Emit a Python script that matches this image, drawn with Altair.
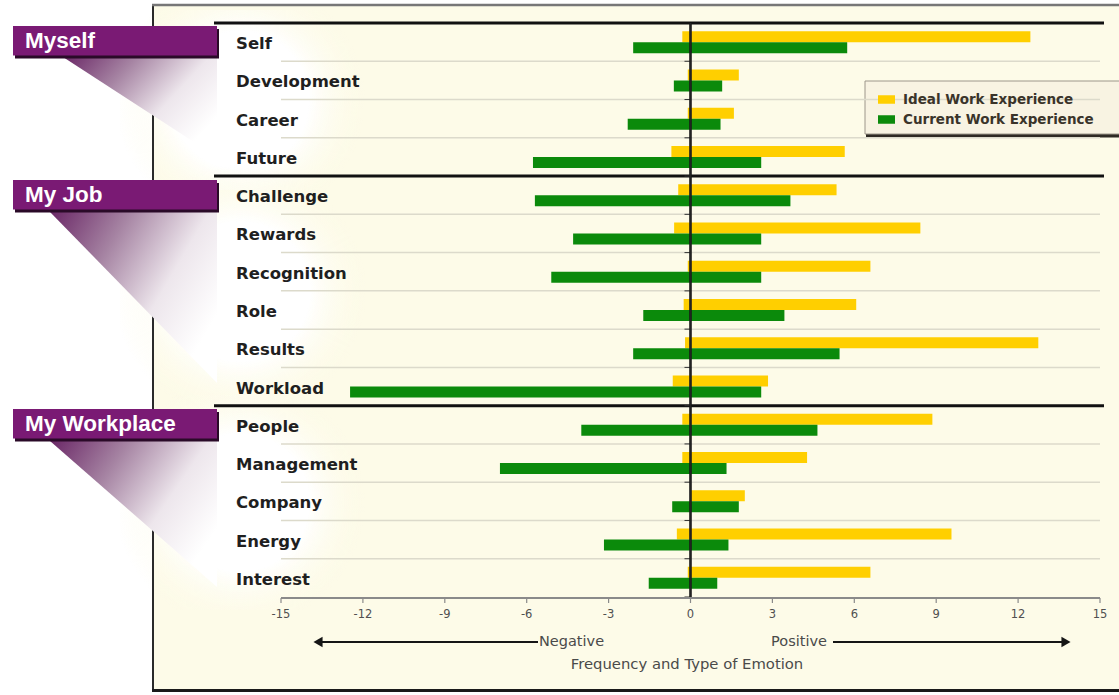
import json

import altair as alt
import pandas as pd

# ---------------------------------------------------------------- data
categories = [
    "Self", "Development", "Career", "Future",
    "Challenge", "Rewards", "Recognition", "Role", "Results", "Workload",
    "People", "Management", "Company", "Energy", "Interest",
]
sections = ["Myself", "My Job", "My Workplace"]
section_first = ["Self", "Challenge", "People"]
section_last = ["Future", "Workload", "Interest"]

ideal_negative = [-0.3, -0.1, -0.1, -0.7, -0.45, -0.6, -0.1, -0.25, -0.2, -0.65,
                  -0.3, -0.3, 0.0, -0.5, -0.1]
ideal_positive = [12.45, 1.77, 1.59, 5.65, 5.35, 8.42, 6.59, 6.07, 12.74, 2.84,
                  8.86, 4.27, 1.99, 9.56, 6.59]
current_negative = [-2.1, -0.61, -2.3, -5.77, -5.7, -4.3, -5.1, -1.73, -2.1, -12.47,
                    -4.0, -6.98, -0.67, -3.17, -1.53]
current_positive = [5.74, 1.16, 1.1, 2.59, 3.66, 2.59, 2.59, 3.44, 5.46, 2.59,
                    4.65, 1.32, 1.77, 1.39, 0.98]

series_names = ["Ideal Work Experience", "Current Work Experience"]
series_colors = ["#FFCF00", "#0B8A0B"]
tick_values = [-15, -12, -9, -6, -3, 0, 3, 6, 9, 12, 15]

# ---------------------------------------------------------------- styling
W, H = 1119, 695
CREAM = "#FDFBE8"
PURPLE = "#7A1A74"
LABEL_FONT = "DejaVu Sans"
BOX_FONT = "Liberation Sans"

# long table of bars: one row per category and series
rows = []
for i, cat in enumerate(categories):
    rows.append({"category": cat, "series": series_names[0],
                 "neg": ideal_negative[i], "pos": ideal_positive[i]})
    rows.append({"category": cat, "series": series_names[1],
                 "neg": current_negative[i], "pos": current_positive[i]})
bars_df = pd.DataFrame(rows)
cats_df = pd.DataFrame({"category": categories})
ticks_df = pd.DataFrame({"tick": tick_values})

# value scale: the whole canvas is the view, -15..15 sits under the bar area
x_scale = alt.Scale(domain=[-690.5 / 27.3, (W - 690.5) / 27.3], nice=False, zero=False)
# one band per category, rows running from y=23 to y=597
y_scale = alt.Scale(domain=categories, range=[23, 597], paddingInner=0, paddingOuter=0)
y_cat = alt.Y("category:N", sort=categories, scale=y_scale, axis=None)


def x_at(value):
    return alt.XDatum(value, axis=None)


not_last = "indexof(" + json.dumps(section_last) + ", datum.category) < 0"

# ---------------------------------------------------------------- data layers
bars = alt.Chart(bars_df).mark_bar().encode(
    x=alt.X("neg:Q", scale=x_scale, axis=None),
    x2="pos:Q",
    y=y_cat,
    yOffset=alt.YOffset("series:N", sort=series_names,
                        scale=alt.Scale(domain=series_names, paddingInner=0, paddingOuter=0.74)),
    color=alt.Color("series:N",
                    scale=alt.Scale(domain=series_names, range=series_colors),
                    legend=alt.Legend(orient="none", legendX=865, legendY=83, title=None,
                                      padding=8, symbolOffset=5,
                                      symbolType="M-1,-0.5H1V0.5H-1Z", symbolSize=289,
                                      symbolStrokeWidth=0, labelOffset=8, rowPadding=5,
                                      labelLimit=400,
                                      labelFont=LABEL_FONT, labelFontWeight="bold",
                                      labelFontSize=13.5, labelColor="#3a342a")),
)

separators = alt.Chart(cats_df).transform_filter(not_last).mark_rule(
    color="#dcdacb", strokeWidth=1.5,
).encode(
    x=x_at(-15), x2=alt.datum(15),
    y=alt.Y("category:N", sort=categories, scale=y_scale, axis=None, bandPosition=1),
)

section_lines = alt.Chart(cats_df).transform_filter(
    alt.FieldOneOfPredicate(field="category", oneOf=section_first)
).mark_rule(color="#111111", strokeWidth=3).encode(
    x=alt.value(214), x2=alt.value(1104),
    y=alt.Y("category:N", sort=categories, scale=y_scale, axis=None, bandPosition=0),
)

zero_ticks = alt.Chart(cats_df).mark_rule(color="#333333", strokeWidth=1).encode(
    x=x_at(-0.22), x2=alt.datum(0),
    y=alt.Y("category:N", sort=categories, scale=y_scale, axis=None, bandPosition=1),
)

zero_line = alt.Chart(cats_df).mark_rule(color="#222222", strokeWidth=1.2).encode(
    x=x_at(0), y=alt.value(23), y2=alt.value(599),
)

# value axis along the bottom of the rows
baseline = alt.Chart(cats_df).mark_rule(color="#8a8a8a", strokeWidth=1.5).encode(
    x=x_at(-15), x2=alt.datum(15), y=alt.value(598),
)
axis_ticks = alt.Chart(ticks_df).mark_rule(color="#8a8a8a", strokeWidth=1.2).encode(
    x=alt.X("tick:Q", axis=None), y=alt.value(598), y2=alt.value(603),
)
axis_labels = alt.Chart(ticks_df).transform_calculate(
    tick_label="'' + datum.tick"
).mark_text(
    align="center", baseline="middle", font=LABEL_FONT, fontSize=11.5, color="#505050",
).encode(x=alt.X("tick:Q", axis=None), y=alt.value(615), text="tick_label:N")

labels = alt.Chart(cats_df).mark_text(
    align="left", baseline="middle", dy=2, font=LABEL_FONT, fontWeight="bold",
    fontSize=16.5, color="#1f1f1f",
).encode(x=alt.value(236), y=y_cat, text="category:N")

data_group = alt.layer(separators, section_lines, zero_ticks, bars, zero_line,
                       baseline, axis_ticks, axis_labels, labels)

# ---------------------------------------------------------------- decoration (pixel space)
px_x = alt.Scale(domain=[0, W], nice=False, zero=False)
px_y = alt.Scale(domain=[0, H], nice=False, zero=False, reverse=True)


def px_rect(df, **mark):
    return alt.Chart(df).mark_rect(**mark).encode(
        x=alt.X("x:Q", scale=px_x, axis=None), x2="x2:Q",
        y=alt.Y("y:Q", scale=px_y, axis=None), y2="y2:Q",
    )


def px_rule(df, **mark):
    return alt.Chart(df).mark_rule(**mark).encode(
        x=alt.X("x:Q", scale=px_x, axis=None), x2="x2:Q",
        y=alt.Y("y:Q", scale=px_y, axis=None), y2="y2:Q",
    )


def px_text(df, **mark):
    return alt.Chart(df).mark_text(**mark).encode(
        x=alt.X("x:Q", scale=px_x, axis=None),
        y=alt.Y("y:Q", scale=px_y, axis=None), text="label:N",
    )


frame_bg = px_rect(pd.DataFrame({"x": [153], "x2": [1130], "y": [5], "y2": [690]}),
                   fill=CREAM)

lens_fill = alt.RadialGradient(
    gradient="radial", x1=0.48, y1=0.5, r1=0, x2=0.48, y2=0.5, r2=0.5,
    stops=[alt.GradientStop(color="#FFFFFF", offset=0),
           alt.GradientStop(color="#FFFFFF", offset=0.55),
           alt.GradientStop(color="rgba(253,251,232,0)", offset=1)],
)
lenses = px_rect(pd.DataFrame({"x": [120, 120, 120], "x2": [370, 370, 370],
                               "y": [10, 165, 395], "y2": [190, 418, 610]}),
                 fill=lens_fill)

frame_left = px_rule(pd.DataFrame({"x": [153], "x2": [153], "y": [5], "y2": [691]}),
                     color="#2a2a2a", strokeWidth=2)
frame_top = px_rule(pd.DataFrame({"x": [152], "x2": [1130], "y": [5], "y2": [5]}),
                    color="#777777", strokeWidth=2.5)
frame_bottom = px_rule(pd.DataFrame({"x": [152], "x2": [1130], "y": [690.5], "y2": [690.5]}),
                       color="#1a1a1a", strokeWidth=3)

beam_fill = alt.LinearGradient(
    gradient="linear", x1=0, y1=0, x2=1, y2=0.6,
    stops=[alt.GradientStop(color="#6A2766", offset=0),
           alt.GradientStop(color="#A684A3", offset=0.35),
           alt.GradientStop(color="#EDE6EC", offset=0.7),
           alt.GradientStop(color="#FFFFFF", offset=1)],
)
beams = alt.Chart(pd.DataFrame({
    "section": ["Myself", "Myself", "My Job", "My Job", "My Workplace", "My Workplace"],
    "y": [57, 157, 212, 383, 441, 587],
    "x": [63, 217, 50, 217, 50, 217],
    "x2": [217, 217, 217, 217, 217, 217],
})).mark_area(orient="horizontal", fill=beam_fill, line=False).encode(
    y=alt.Y("y:Q", scale=px_y, axis=None),
    x=alt.X("x:Q", scale=px_x, axis=None), x2="x2:Q",
    detail="section:N",
)

box_tops = [26, 180, 409]
box_df = pd.DataFrame({"x": [13] * 3, "x2": [217] * 3,
                       "y": box_tops, "y2": [t + 29.5 for t in box_tops]})
shadow_df = pd.DataFrame({"x": [15] * 3, "x2": [219] * 3,
                          "y": [t + 3 for t in box_tops], "y2": [t + 32.5 for t in box_tops]})
box_shadow = px_rect(shadow_df, fill="#2a0a28")
boxes = px_rect(box_df, fill=PURPLE)
box_text = px_text(pd.DataFrame({"x": [25] * 3, "y": [t + 15 for t in box_tops],
                                 "label": sections}),
                   align="left", baseline="middle", font=BOX_FONT, fontWeight="bold",
                   fontSize=22.5, color="#FFFFFF")

legend_shadow = px_rect(pd.DataFrame({"x": [866], "x2": [1130], "y": [84], "y2": [137.5]}),
                        fill="#2e2a24")
legend_box = px_rect(pd.DataFrame({"x": [865], "x2": [1130], "y": [81], "y2": [134]}),
                     fill="#F8F3E2", stroke="#9c968a", strokeWidth=1)

arrow_lines = px_rule(pd.DataFrame({"x": [322, 833], "x2": [538, 1062],
                                    "y": [642, 642], "y2": [642, 642]}),
                      color="#151515", strokeWidth=2)
arrow_heads = alt.Chart(pd.DataFrame({"x": [318, 1066], "y": [642, 642],
                                      "dir": ["left", "right"]})).mark_point(
    filled=True, opacity=1, color="#151515", size=110,
).encode(
    x=alt.X("x:Q", scale=px_x, axis=None),
    y=alt.Y("y:Q", scale=px_y, axis=None),
    shape=alt.Shape("dir:N", scale=alt.Scale(domain=["left", "right"],
                                             range=["triangle-left", "triangle-right"]),
                    legend=None),
)
neg_text = px_text(pd.DataFrame({"x": [539], "y": [642], "label": ["Negative"]}),
                   align="left", baseline="middle", font=LABEL_FONT, fontSize=14.5,
                   color="#4a4a4a")
pos_text = px_text(pd.DataFrame({"x": [827], "y": [642], "label": ["Positive"]}),
                   align="right", baseline="middle", font=LABEL_FONT, fontSize=14.5,
                   color="#4a4a4a")
axis_title = px_text(pd.DataFrame({"x": [687], "y": [665],
                                   "label": ["Frequency and Type of Emotion"]}),
                     align="center", baseline="middle", font=LABEL_FONT, fontSize=14.8,
                     color="#4a4a4a")

deco_group = alt.layer(frame_bg, lenses, frame_left, frame_top, frame_bottom, beams,
                       box_shadow, boxes, box_text, legend_shadow, legend_box,
                       arrow_lines, arrow_heads, neg_text, pos_text, axis_title)

chart = alt.layer(deco_group, data_group).resolve_scale(
    x="independent", y="independent", color="independent", shape="independent",
).properties(
    width=W, height=H, padding=0, background="#FFFFFF",
    autosize=alt.AutoSizeParams(type="none"),
).configure_view(stroke=None)

chart.save("out.html", embed_options={"renderer": "svg", "actions": False})
